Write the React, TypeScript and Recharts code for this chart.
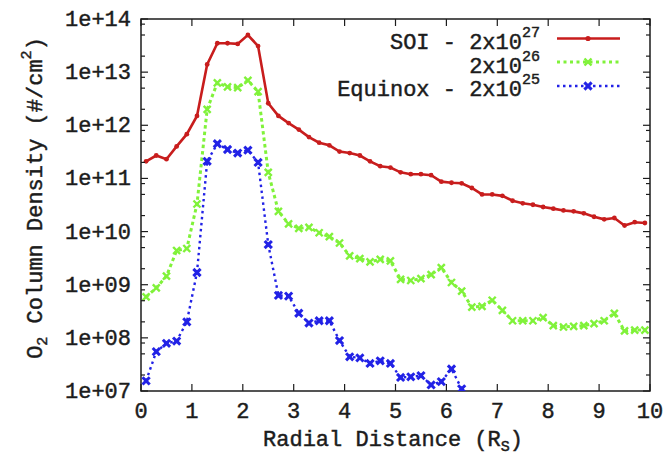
import React from 'react';
import { LineChart, Line, XAxis, YAxis, ReferenceArea } from 'recharts';

// radial distance bins (R_S)
const radialDistance = [
  0.1, 0.3, 0.5, 0.7, 0.9, 1.1, 1.3, 1.5, 1.7, 1.9,
  2.1, 2.3, 2.5, 2.7, 2.9, 3.1, 3.3, 3.5, 3.7, 3.9,
  4.1, 4.3, 4.5, 4.7, 4.9, 5.1, 5.3, 5.5, 5.7, 5.9,
  6.1, 6.3, 6.5, 6.7, 6.9, 7.1, 7.3, 7.5, 7.7, 7.9,
  8.1, 8.3, 8.5, 8.7, 8.9, 9.1, 9.3, 9.5, 9.7, 9.9,
];

const soi27 = [
  2.1e11, 2.7e11, 2.3e11, 4.0e11, 6.8e11, 1.5e12, 1.4e13, 3.5e13, 3.5e13, 3.4e13,
  5.0e13, 3.1e13, 2.6e12, 1.5e12, 1.1e12, 8.3e11, 6.0e11, 4.7e11, 4.2e11, 3.2e11,
  3.0e11, 2.7e11, 2.1e11, 1.7e11, 1.6e11, 1.3e11, 1.2e11, 1.2e11, 1.15e11, 8.7e10,
  8.3e10, 8.1e10, 6.6e10, 5.0e10, 5.0e10, 4.7e10, 3.8e10, 3.4e10, 3.2e10, 2.9e10,
  2.7e10, 2.5e10, 2.4e10, 2.2e10, 1.9e10, 1.7e10, 1.8e10, 1.3e10, 1.5e10, 1.45e10,
];

const mid26 = [
  5.9e8, 8.7e8, 1.45e9, 4.4e9, 4.8e9, 3.3e10, 2.0e12, 6.3e12, 5.3e12, 5.1e12,
  7.0e12, 4.3e12, 1.3e11, 2.4e10, 1.4e10, 1.15e10, 1.2e10, 9.5e9, 8.0e9, 6.1e9,
  3.5e9, 3.1e9, 2.7e9, 3.0e9, 2.8e9, 1.26e9, 1.2e9, 1.3e9, 1.55e9, 2.1e9,
  1.1e9, 7.6e8, 3.8e8, 3.9e8, 5.1e8, 3.3e8, 2.1e8, 2.1e8, 2.1e8, 2.4e8,
  1.7e8, 1.6e8, 1.65e8, 1.7e8, 1.85e8, 2.1e8, 2.9e8, 1.35e8, 1.4e8, 1.4e8,
];

const equinox25 = [
  1.55e7, 5.5e7, 7.9e7, 8.7e7, 2.0e8, 1.7e9, 2.1e11, 4.5e11, 3.5e11, 3.0e11,
  3.4e11, 2.0e11, 5.7e9, 6.3e8, 6.1e8, 2.9e8, 1.9e8, 2.1e8, 2.1e8, 8.9e7,
  4.4e7, 4.2e7, 3.3e7, 3.7e7, 3.3e7, 1.8e7, 1.85e7, 1.95e7, 1.3e7, 1.5e7,
  2.6e7, 1.1e7, null, null, null, null, null, null, null, null,
  null, null, null, null, null, null, null, null, null, null,
];

const xTicks = [0, 1, 2, 3, 4, 5, 6, 7, 8, 9, 10];
const yMajorTicks = [1e7, 1e8, 1e9, 1e10, 1e11, 1e12, 1e13, 1e14];
const yMinorSteps = [2, 5, 8];

const data = radialDistance.map((r, i) => ({
  r,
  soi: soi27[i],
  mid: mid26[i],
  eq: equinox25[i],
}));

const yTicks = yMajorTicks.concat(
  yMajorTicks.slice(0, -1).flatMap((d) => yMinorSteps.map((m) => d * m))
);

const RED = '#c81d1d';
const GREEN = '#80f23a';
const BLUE = '#2222e6';
const INK = '#1c1c1c';
const FONT = "'Liberation Mono', 'DejaVu Sans Mono', monospace";

const LEFT = 141;
const RIGHT = 650;
const TOP = 19;
const BOTTOM = 391;

const isMajor = (v: number) => {
  const l = Math.log10(v);
  return Math.abs(l - Math.round(l)) < 1e-6;
};

const YTick = (props: any) => {
  const { y, payload } = props;
  const v = payload.value;
  const major = isMajor(v);
  const len = major ? 7 : 4;
  const exp = Math.round(Math.log10(v));
  return (
    <g>
      <line x1={LEFT} x2={LEFT + len} y1={y} y2={y} stroke={INK} strokeWidth={1.2} />
      <line x1={RIGHT - len} x2={RIGHT} y1={y} y2={y} stroke={INK} strokeWidth={1.2} />
      {major && (
        <text x={131} y={y + 7} textAnchor="end" fontSize={22} fontFamily={FONT} fill={INK} stroke={INK} strokeWidth={0.45}>
          {'1e+' + String(exp).padStart(2, '0')}
        </text>
      )}
    </g>
  );
};

const XTick = (props: any) => {
  const { x, payload } = props;
  return (
    <g>
      <line x1={x} x2={x} y1={BOTTOM} y2={BOTTOM - 7} stroke={INK} strokeWidth={1.2} />
      <line x1={x} x2={x} y1={TOP} y2={TOP + 7} stroke={INK} strokeWidth={1.2} />
      <text x={x} y={418} textAnchor="middle" fontSize={22} fontFamily={FONT} fill={INK} stroke={INK} strokeWidth={0.45}>
        {payload.value}
      </text>
    </g>
  );
};

const RedDot = (p: any) => {
  if (p.cx == null || p.cy == null || p.value == null) return <g key={p.key} />;
  return <circle key={p.key} cx={p.cx} cy={p.cy} r={2.4} fill={RED} />;
};

const GreenDot = (p: any) => {
  if (p.cx == null || p.cy == null || p.value == null) return <g key={p.key} />;
  const s = 3.5;
  return (
    <g key={p.key} stroke={GREEN} strokeWidth={2.4}>
      <line x1={p.cx - s} y1={p.cy - s} x2={p.cx + s} y2={p.cy + s} />
      <line x1={p.cx - s} y1={p.cy + s} x2={p.cx + s} y2={p.cy - s} />
    </g>
  );
};

const BlueDot = (p: any) => {
  if (p.cx == null || p.cy == null || p.value == null) return <g key={p.key} />;
  const s = 3.6;
  return (
    <g key={p.key} stroke={BLUE} strokeWidth={3}>
      <line x1={p.cx - s} y1={p.cy - s} x2={p.cx + s} y2={p.cy + s} />
      <line x1={p.cx - s} y1={p.cy + s} x2={p.cx + s} y2={p.cy - s} />
      <rect x={p.cx - 2} y={p.cy - 2} width={4} height={4} fill={BLUE} strokeWidth={0} />
    </g>
  );
};

const sup = { fontSize: 15 };

const Overlay = () => (
  <svg
    width={670}
    height={456}
    style={{ position: 'absolute', left: 0, top: 0, pointerEvents: 'none' }}
    fontFamily={FONT}
    fill={INK}
  >
    {/* legend */}
    <g stroke={INK} strokeWidth={0.45}>
      <text x={540} y={49} textAnchor="end" fontSize={22}>
        SOI - 2x10<tspan dy={-12} style={sup}>27</tspan>
      </text>
      <text x={540} y={73} textAnchor="end" fontSize={22}>
        2x10<tspan dy={-12} style={sup}>26</tspan>
      </text>
      <text x={540} y={96} textAnchor="end" fontSize={22}>
        Equinox - 2x10<tspan dy={-12} style={sup}>25</tspan>
      </text>
    </g>
    <line x1={557} x2={620} y1={38.5} y2={38.5} stroke={RED} strokeWidth={2.6} />
    <circle cx={588} cy={38.5} r={2.6} fill={RED} />
    <line x1={557} x2={620} y1={62} y2={62} stroke={GREEN} strokeWidth={3} strokeDasharray="3 3.5" />
    <GreenDot cx={588} cy={62} value={1} />
    <line x1={557} x2={620} y1={86} y2={86} stroke={BLUE} strokeWidth={2.4} strokeDasharray="2.5 3.5" />
    <BlueDot cx={588} cy={86} value={1} />

    {/* axis titles */}
    <g stroke={INK} strokeWidth={0.45}>
      <text x={393} y={446} textAnchor="middle" fontSize={22}>
        Radial Distance (R<tspan dy={5} style={sup}>S</tspan><tspan dy={-5}>)</tspan>
      </text>
      <text x={42} y={198} textAnchor="middle" fontSize={22} transform="rotate(-90 42 198)">
        O<tspan dy={5} style={sup}>2</tspan>
        <tspan dy={-5}> Column Density (#/cm</tspan>
        <tspan dy={-11} style={sup}>2</tspan>
        <tspan dy={11}>)</tspan>
      </text>
    </g>
  </svg>
);

export default function App() {
  return (
    <div style={{ position: 'absolute', left: 0, top: 0, width: 670, height: 456, background: '#fff' }}>
      <LineChart
        width={670}
        height={456}
        data={data}
        margin={{ top: TOP, right: 670 - RIGHT, bottom: 0, left: 0 }}
      >
        <XAxis
          dataKey="r"
          type="number"
          domain={[0, 10]}
          ticks={xTicks}
          interval={0}
          height={456 - BOTTOM}
          axisLine={false}
          tickLine={false}
          tick={<XTick />}
        />
        <YAxis
          scale="log"
          domain={[1e7, 1e14]}
          allowDataOverflow
          ticks={yTicks}
          interval={0}
          width={LEFT}
          axisLine={false}
          tickLine={false}
          tick={<YTick />}
        />
        <ReferenceArea
          x1={0}
          x2={10}
          y1={1e7}
          y2={1e14}
          fill="none"
          fillOpacity={0}
          stroke={INK}
          strokeWidth={1.5}
        />
        <Line
          dataKey="eq"
          stroke={BLUE}
          strokeWidth={2.4}
          strokeDasharray="2.5 3.5"
          dot={BlueDot}
          activeDot={false}
          isAnimationActive={false}
        />
        <Line
          dataKey="mid"
          stroke={GREEN}
          strokeWidth={3}
          strokeDasharray="3.5 3"
          dot={GreenDot}
          activeDot={false}
          isAnimationActive={false}
        />
        <Line
          dataKey="soi"
          stroke={RED}
          strokeWidth={2.6}
          dot={RedDot}
          activeDot={false}
          isAnimationActive={false}
        />
      </LineChart>
      <Overlay />
    </div>
  );
}
